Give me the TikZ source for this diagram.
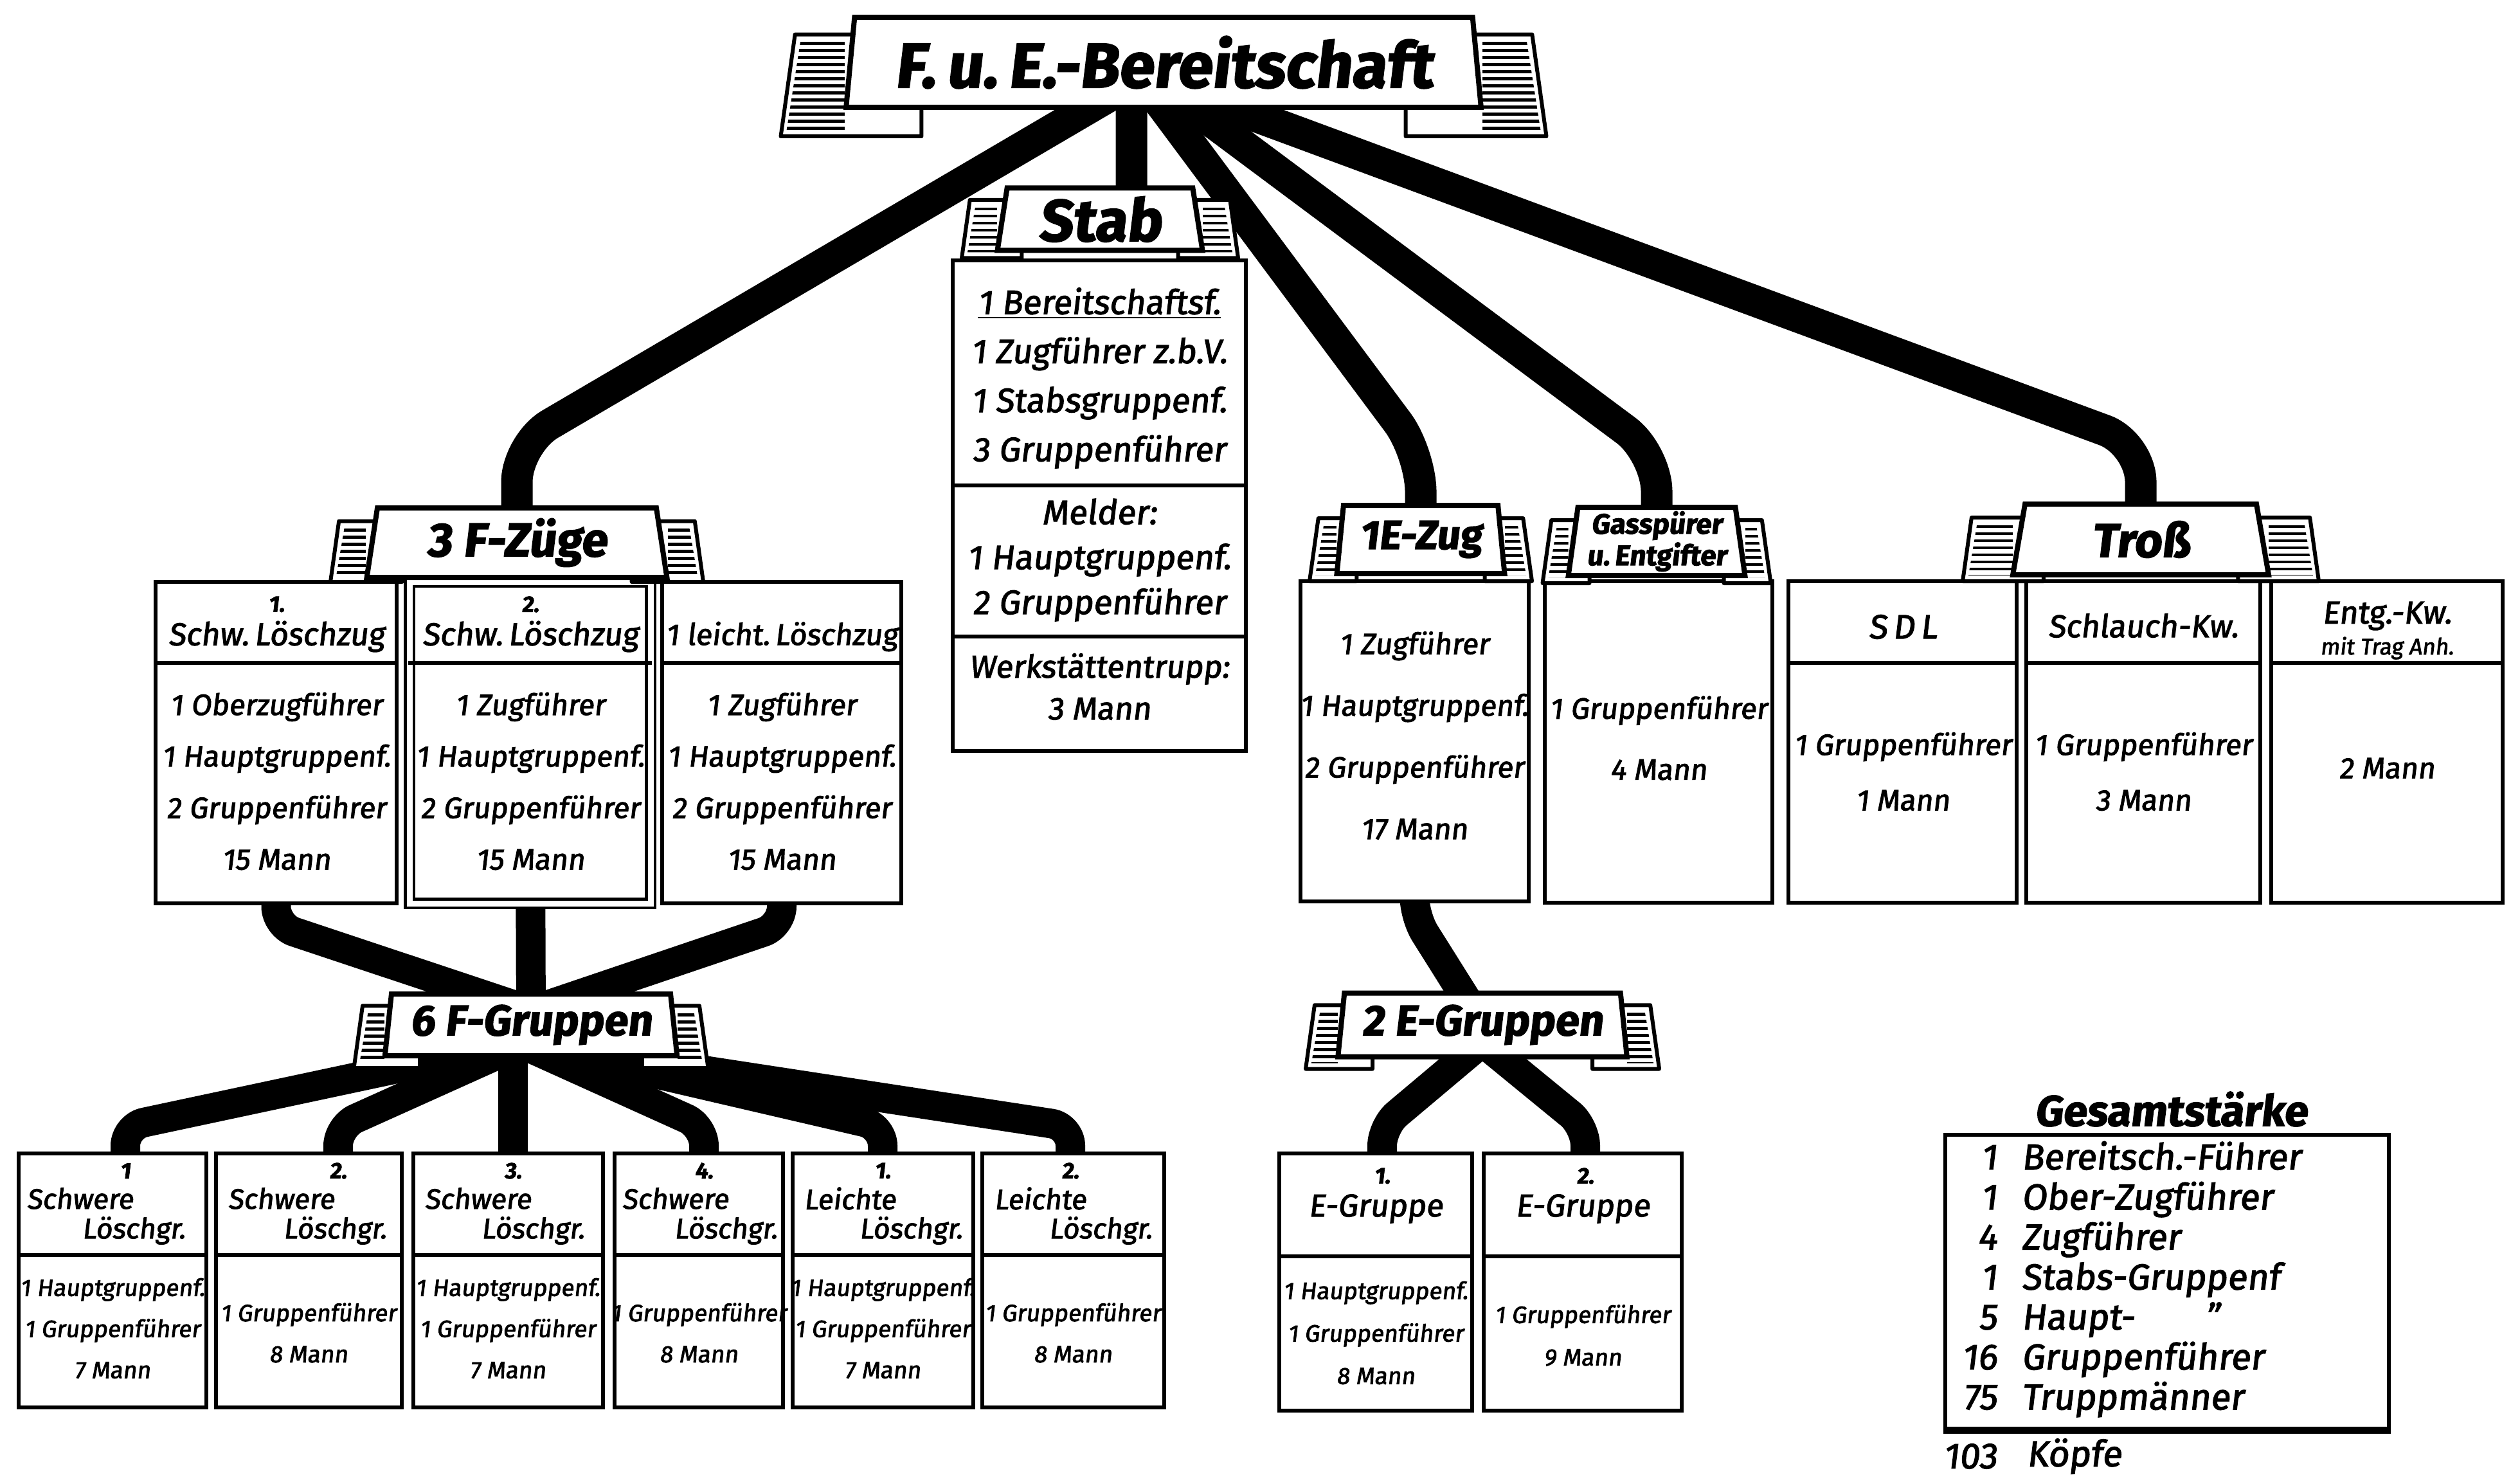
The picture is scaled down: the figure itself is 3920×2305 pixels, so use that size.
\documentclass[tikz,border=0pt]{standalone}
\usepackage{fontspec}
\setmainfont{Fira Sans}[FakeSlant=0.12, FakeBold=2.2]
\usetikzlibrary{shapes.geometric}
\pgfdeclarelayer{back}
\pgfsetlayers{back,main}

% banner with hatched side tabs: name, x, y, width, height, tab width, tab below, text
\newcommand{\banner}[8]{%
  \pgfmathsetmacro{\bnL}{#2-#4/2}%
  \pgfmathsetmacro{\bnR}{#2+#4/2}%
  \pgfmathsetmacro{\bnT}{#3-#5/2}%
  \pgfmathsetmacro{\bnB}{#3+#5/2}%
  \pgfmathsetmacro{\tbT}{\bnT+0.19*#5}%
  \pgfmathsetmacro{\tbB}{\bnB+#7}%
  \pgfmathsetmacro{\tbS}{0.14*(\tbB-\tbT)}%
  \pgfmathsetmacro{\tbI}{0.12*#4}%
  \draw[tab] ({\bnL-#6},\tbB) -- ({\bnL-#6+\tbS},\tbT) -- ({\bnL+\tbI},\tbT) -- ({\bnL+\tbI},\tbB) -- cycle;
  \begin{scope}
    \clip ({\bnL-#6+9},{\tbB-9}) -- ({\bnL-#6+9+\tbS},{\tbT+7}) -- (\bnL,{\tbT+7}) -- (\bnL,{\tbB-9}) -- cycle;
    \foreach \k in {0,...,25}
      \draw[hatch] ({\bnL-#6},{\tbT+14+\k*11}) -- (\bnL,{\tbT+14+\k*11});
  \end{scope}
  \draw[tab] ({\bnR+#6},\tbB) -- ({\bnR+#6-\tbS},\tbT) -- ({\bnR-\tbI},\tbT) -- ({\bnR-\tbI},\tbB) -- cycle;
  \begin{scope}
    \clip ({\bnR+#6-9},{\tbB-9}) -- ({\bnR+#6-9-\tbS},{\tbT+7}) -- (\bnR,{\tbT+7}) -- (\bnR,{\tbB-9}) -- cycle;
    \foreach \k in {0,...,25}
      \draw[hatch] ({\bnR+#6},{\tbT+14+\k*11}) -- (\bnR,{\tbT+14+\k*11});
  \end{scope}
  \node[bannerbox, minimum width=#4*0.1mm, minimum height=#5*0.1mm] (#1) at (#2,#3) {#8};
}

\begin{document}
\begin{tikzpicture}[x=0.1mm, y=-0.1mm,
  tab/.style={draw, fill=white, line width=0.6mm, line join=round},
  hatch/.style={line width=0.45mm},
  bannerbox/.style={trapezium, trapezium angle=82, trapezium stretches=true, draw, fill=white,
    line width=0.8mm, inner sep=0pt, align=center, font=\bfseries},
  unit/.style={draw, fill=white, line width=0.55mm, inner sep=0pt},
  sep/.style={line width=0.6mm},
  strang/.style={line width=4.9mm, rounded corners=6mm},
  strang2/.style={line width=4.6mm, rounded corners=3mm},
  num/.style={font=\bfseries\fontsize{10}{10}\selectfont, inner sep=0pt},
  hd/.style={font=\fontsize{14}{14}\selectfont, inner sep=0pt},
  ghd/.style={font=\fontsize{12.5}{12.5}\selectfont, inner sep=0pt},
  bd/.style={font=\fontsize{13}{22.8}\selectfont, align=center, inner sep=0pt},
  gbd/.style={font=\fontsize{10.5}{18.2}\selectfont, align=center, inner sep=0pt},
  gz/.style={font=\fontsize{16}{17.7}\selectfont, inner sep=0pt}]
\useasboundingbox (0,0) rectangle (3920,2305);
\begin{pgfonlayer}{back}
\fill[white] (0,0) rectangle (3920,2305);
\end{pgfonlayer}

% levels
\coordinate (lzdiv) at (0,1031);
\coordinate (stabdivA) at (0,755);
\coordinate (stabdivB) at (0,990);
\coordinate (gdiv) at (0,1952);
\coordinate (ediv) at (0,1954);
\coordinate (knieA) at (0,690);
\coordinate (knieB) at (0,705);
\coordinate (knieC) at (0,1440);
\coordinate (knieD) at (0,1752);
\coordinate (knieF) at (0,1426);

% boxes
\node[unit, minimum width=37.5mm, minimum height=50mm] (lz1) at (429.5,1155) {};
\node[unit, double, double distance=0.9mm, line width=0.45mm, minimum width=37.5mm, minimum height=50mm] (lz2) at (824.5,1155) {};
\node[unit, minimum width=37.2mm, minimum height=50mm] (lz3) at (1216,1155) {};
\node[unit, minimum width=45.6mm, minimum height=76.3mm] (stabbox) at (1710,786.5) {};
\node[unit, minimum width=35.5mm, minimum height=49.8mm] (ezbox) at (2200.5,1153) {};
\node[unit, minimum width=35.4mm, minimum height=50mm] (gasbox) at (2580,1154) {};
\node[unit, minimum width=35.5mm, minimum height=50mm] (sdl) at (2959.5,1154) {};
\node[unit, minimum width=36.4mm, minimum height=50mm] (schl) at (3334,1154) {};
\node[unit, minimum width=36mm, minimum height=50mm] (entg) at (3713,1154) {};
\node[unit, minimum width=29.2mm, minimum height=39.5mm] (g1) at (175,1991.5) {};
\node[unit, minimum width=28.9mm, minimum height=39.5mm] (g2) at (480.5,1991.5) {};
\node[unit, minimum width=29.5mm, minimum height=39.5mm] (g3) at (790.5,1991.5) {};
\node[unit, minimum width=26.2mm, minimum height=39.5mm] (g4) at (1087,1991.5) {};
\node[unit, minimum width=28.1mm, minimum height=39.5mm] (g5) at (1373.5,1991.5) {};
\node[unit, minimum width=28.3mm, minimum height=39.5mm] (g6) at (1669.5,1991.5) {};
\node[unit, minimum width=30mm, minimum height=40mm] (e1) at (2140,1994) {};
\node[unit, minimum width=30.8mm, minimum height=40mm] (e2) at (2462,1994) {};
\node[unit, minimum width=69mm, minimum height=45.7mm] (gbox) at (3371,1993.5) {};
\draw[line width=1mm] (gbox.south west) -- (gbox.south east);

% dividers
\draw[sep] (lz1.west |- lzdiv) -- (lz1.east |- lzdiv);
\draw[sep] (lz2.west |- lzdiv) -- (lz2.east |- lzdiv);
\draw[sep] (lz3.west |- lzdiv) -- (lz3.east |- lzdiv);
\draw[sep] (sdl.west |- lzdiv) -- (sdl.east |- lzdiv);
\draw[sep] (schl.west |- lzdiv) -- (schl.east |- lzdiv);
\draw[sep] (entg.west |- lzdiv) -- (entg.east |- lzdiv);
\draw[sep] (stabbox.west |- stabdivA) -- (stabbox.east |- stabdivA);
\draw[sep] (stabbox.west |- stabdivB) -- (stabbox.east |- stabdivB);
\draw[sep] (g1.west |- gdiv) -- (g1.east |- gdiv);
\draw[sep] (g2.west |- gdiv) -- (g2.east |- gdiv);
\draw[sep] (g3.west |- gdiv) -- (g3.east |- gdiv);
\draw[sep] (g4.west |- gdiv) -- (g4.east |- gdiv);
\draw[sep] (g5.west |- gdiv) -- (g5.east |- gdiv);
\draw[sep] (g6.west |- gdiv) -- (g6.east |- gdiv);
\draw[sep] (e1.west |- ediv) -- (e1.east |- ediv);
\draw[sep] (e2.west |- ediv) -- (e2.east |- ediv);

% Loeschzuege
\node[num] (lz1n) at (430,940) {1.};
\node[hd] (lz1h) at (430,990) {Schw.\,Löschzug};
\node[bd] (lz1b) at (430,1215) {1 Oberzugführer\\1 Hauptgruppenf.\\2 Gruppenführer\\15 Mann};
\node[num] (lz2n) at (825,940) {2.};
\node[hd] (lz2h) at (825,990) {Schw.\,Löschzug};
\node[bd] (lz2b) at (825,1215) {1 Zugführer\\1 Hauptgruppenf.\\2 Gruppenführer\\15 Mann};
\node[hd, font=\fontsize{13.2}{13.2}\selectfont] (lz3h) at (1216,990) {1 leicht.\,Löschzug};
\node[bd] (lz3b) at (1216,1215) {1 Zugführer\\1 Hauptgruppenf.\\2 Gruppenführer\\15 Mann};

% Stab
\node[bd, font=\fontsize{15}{21.7}\selectfont] (stab1) at (1710,588) {\underline{1 Bereitschaftsf.}\\1 Zugführer z.b.V.\\1 Stabsgruppenf.\\3 Gruppenführer};
\node[bd, font=\fontsize{15}{19.9}\selectfont] (stab2) at (1710,871) {Melder:\\1 Hauptgruppenf.\\2 Gruppenführer};
\node[bd, font=\fontsize{14}{18.5}\selectfont] (stab3) at (1710,1068) {Werkstättentrupp:\\3 Mann};

% E-Zug, Gasspuerer, Tross
\node[bd, font=\fontsize{13}{27.3}\selectfont] (ezb) at (2200,1144) {1 Zugführer\\1 Hauptgruppenf.\\2 Gruppenführer\\17 Mann};
\node[bd, font=\fontsize{13}{27}\selectfont] (gasb) at (2580,1148) {1 Gruppenführer\\4 Mann};
\node[hd, font=\fontsize{15}{15}\selectfont] (sdlh) at (2960,975) {S\,D\,L};
\node[bd, font=\fontsize{13}{24.5}\selectfont] (sdlb) at (2960,1200) {1 Gruppenführer\\1 Mann};
\node[hd] (schlh) at (3334,973) {Schlauch-Kw.};
\node[bd, font=\fontsize{13}{24.5}\selectfont] (schlb) at (3334,1200) {1 Gruppenführer\\3 Mann};
\node[hd] (entgh) at (3713,958) {Entg.-Kw.};
\node[hd, font=\fontsize{10}{10}\selectfont] (entgz) at (3713,1008) {mit Trag Anh.};
\node[bd] (entgb) at (3713,1195) {2 Mann};

% F-Gruppen
\node[num] (g1n) at (195,1821) {1};
\node[ghd, anchor=west] (g1h) at (41,1864) {Schwere};
\node[ghd, anchor=east] (g1k) at (289,1914) {Löschgr.};
\node[gbd] (g1b) at (175,2066) {1 Hauptgruppenf.\\1 Gruppenführer\\7 Mann};
\node[num] (g2n) at (526,1821) {2.};
\node[ghd, anchor=west] (g2h) at (354,1864) {Schwere};
\node[ghd, anchor=east] (g2k) at (602,1914) {Löschgr.};
\node[gbd] (g2b) at (480,2073) {1 Gruppenführer\\8 Mann};
\node[num] (g3n) at (798,1821) {3.};
\node[ghd, anchor=west] (g3h) at (660,1864) {Schwere};
\node[ghd, anchor=east] (g3k) at (910,1914) {Löschgr.};
\node[gbd] (g3b) at (790,2066) {1 Hauptgruppenf.\\1 Gruppenführer\\7 Mann};
\node[num] (g4n) at (1095,1821) {4.};
\node[ghd, anchor=west] (g4h) at (967,1864) {Schwere};
\node[ghd, anchor=east] (g4k) at (1210,1914) {Löschgr.};
\node[gbd] (g4b) at (1087,2073) {1 Gruppenführer\\8 Mann};
\node[num] (g5n) at (1373,1821) {1.};
\node[ghd, anchor=west] (g5h) at (1250,1864) {Leichte};
\node[ghd, anchor=east] (g5k) at (1498,1914) {Löschgr.};
\node[gbd] (g5b) at (1373,2066) {1 Hauptgruppenf.\\1 Gruppenführer\\7 Mann};
\node[num] (g6n) at (1665,1821) {2.};
\node[ghd, anchor=west] (g6h) at (1546,1864) {Leichte};
\node[ghd, anchor=east] (g6k) at (1793,1914) {Löschgr.};
\node[gbd] (g6b) at (1669,2073) {1 Gruppenführer\\8 Mann};

% E-Gruppen
\node[num] (e1n) at (2150,1829) {1.};
\node[hd] (e1h) at (2140,1880) {E-Gruppe};
\node[gbd, font=\fontsize{10.5}{18.8}\selectfont] (e1b) at (2140,2073) {1 Hauptgruppenf.\\1 Gruppenführer\\8 Mann};
\node[num] (e2n) at (2466,1829) {2.};
\node[hd] (e2h) at (2462,1880) {E-Gruppe};
\node[gbd, font=\fontsize{10.5}{18.8}\selectfont] (e2b) at (2462,2077) {1 Gruppenführer\\9 Mann};

% Gesamtstaerke
\node[font=\bfseries\fontsize{19}{19}\selectfont, inner sep=0pt] (gtitel) at (3377,1725) {Gesamtstärke};
\node[gz, anchor=east, align=right] (gzahl) at (3107,1993) {\strut 1\\1\\4\\1\\5\\16\\75\strut};
\node[gz, anchor=west, align=left] (gwer) at (3144,1993) {\strut Bereitsch.-Führer\\Ober-Zugführer\\Zugführer\\Stabs-Gruppenf\\Haupt-\hspace{11mm}”\\Gruppenführer\\Truppmänner\strut};
\node[gz, anchor=east] (gsum) at (3107,2265) {103};
\node[gz, anchor=west] (gkopf) at (3152,2265) {Köpfe};

% banners
\banner{title}{1810}{97}{991}{140}{100}{45}{\fontsize{28}{28}\selectfont F.\,u.\,E.-Bereitschaft}
\banner{stab}{1711}{341}{320}{97}{55}{12}{\fontsize{26}{26}\selectfont Stab}
\banner{fz}{804}{844}{470}{108}{55}{7}{\fontsize{21}{21}\selectfont 3 F-Züge}
\banner{ez}{2210}{839}{262}{106}{42}{12}{\fontsize{18}{18}\selectfont 1E-Zug}
\banner{gas}{2577}{842}{275}{106}{40}{12}{\fontsize{12.5}{11.5}\selectfont Gasspürer\\\fontsize{12.5}{11.5}\selectfont u.\,Entgifter}
\banner{tross}{3330}{839}{398}{110}{78}{10}{\fontsize{21}{21}\selectfont Troß}
\banner{sixf}{826}{1594}{455}{96}{48}{19}{\fontsize{19}{19}\selectfont 6 F-Gruppen}
\banner{twoe}{2306}{1594}{450}{99}{50}{19}{\fontsize{19}{19}\selectfont 2 E-Gruppen}

% connectors
\begin{pgfonlayer}{back}
\draw[strang] ([xshift=-7mm,yshift=3mm]title.south) -- (fz.north |- knieA) -- (fz.center);
\draw[strang] ([xshift=-5mm]title.center) -- ([xshift=4.9mm]stab.center);
\draw[strang] ([xshift=-2mm,yshift=3mm]title.south) -- (ez.north |- knieB) -- (ez.center);
\draw[strang] ([xshift=1mm,yshift=3mm]title.south) -- (gas.north |- knieB) -- (gas.center);
\draw[strang] ([xshift=3.5mm,yshift=3mm]title.south) -- (tross.north |- knieA) -- (tross.center);
% Zuege -> F-Gruppen
\draw[strang2] (lz1.center) -- (lz1.center |- knieC) -- ([yshift=-3mm]sixf.north);
\draw[strang2] (lz2.center) -- (sixf.center);
\draw[strang2] (lz3.center) -- (lz3.center |- knieC) -- ([yshift=-3mm]sixf.north);
% F-Gruppen -> Gruppen
\draw[strang2] ([xshift=-4mm,yshift=2mm]sixf.south) -- (g1n |- knieD) -- (g1n |- g1.north);
\draw[strang2] ([xshift=-2mm,yshift=2mm]sixf.south) -- (g2n |- knieD) -- (g2n |- g2.north);
\draw[strang2] ([xshift=-2.8mm,yshift=2mm]sixf.south) -- (g3n |- g3.north);
\draw[strang2] ([xshift=-1mm,yshift=2mm]sixf.south) -- (g4n |- knieD) -- (g4n |- g4.north);
\draw[strang2] ([xshift=0.5mm,yshift=2mm]sixf.south) -- (g5n |- knieD) -- (g5n |- g5.north);
\draw[strang2] ([xshift=1.5mm,yshift=2mm]sixf.south) -- (g6n |- knieD) -- (g6n |- g6.north);
% E-Zug -> E-Gruppen
\draw[strang2] (ezbox.center) -- (ezbox.center |- knieF) -- (twoe.center);
\draw[strang2] ([xshift=-0.8mm,yshift=2mm]twoe.south) -- (e1n |- knieD) -- (e1n |- e1.north);
\draw[strang2] ([xshift=0.8mm,yshift=2mm]twoe.south) -- (e2n |- knieD) -- (e2n |- e2.north);
\end{pgfonlayer}
\end{tikzpicture}
\end{document}
